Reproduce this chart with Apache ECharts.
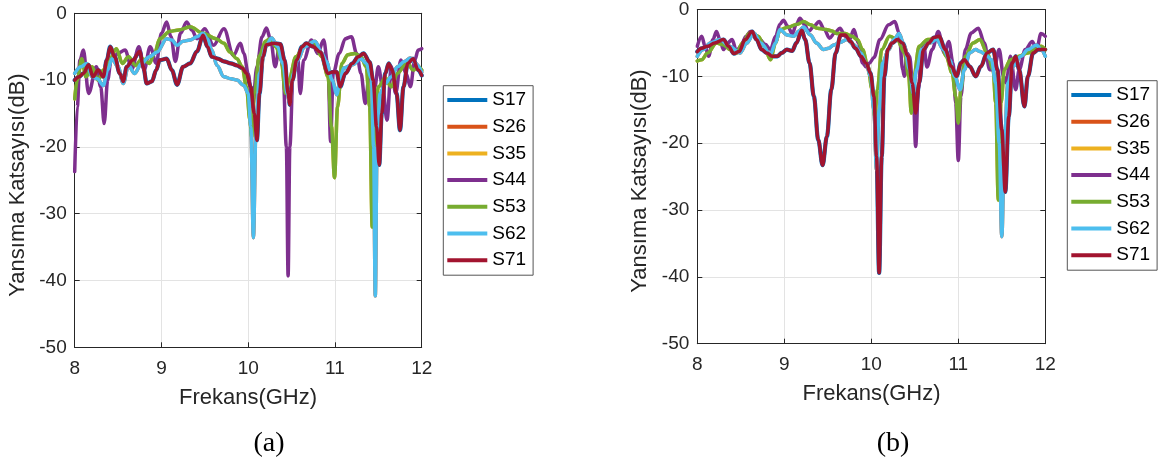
<!DOCTYPE html>
<html>
<head>
<meta charset="utf-8">
<script src="https://cdn.jsdelivr.net/npm/echarts@6/dist/echarts.min.js"></script>
<style>
html,body{margin:0;padding:0;background:#fff;}
#chart{width:1164px;height:468px;}
</style>
</head>
<body>
<div id="chart"></div>
<script>
// ---------- DATA ----------
var seriesNames = ['S17','S26','S35','S44','S53','S62','S71'];
var xTicks = [8, 9, 10, 11, 12];
var yTicks = [0, -10, -20, -30, -40, -50];

// Plot (a)  [frequency GHz, dB]
var a_S44 = [[8.0,-23.7],[8.03,-14],[8.06,-7],[8.10,-5.5],[8.16,-12],[8.25,-8],[8.30,-11],[8.34,-16.5],[8.38,-10],[8.42,-7],[8.50,-6],[8.58,-5.5],[8.66,-8.3],[8.74,-5],[8.80,-8.5],[8.87,-5],[8.94,-7.5],[9.0,-3],[9.06,-1.3],[9.11,-3.5],[9.16,-7.2],[9.22,-3],[9.29,-1.3],[9.35,-2.5],[9.41,-3.8],[9.50,-2.3],[9.60,-4.8],[9.72,-2.3],[9.83,-6.3],[9.91,-4.5],[9.95,-6],[10.0,-9],[10.05,-14],[10.1,-8],[10.16,-3.5],[10.21,-2.2],[10.26,-4],[10.31,-8],[10.36,-5],[10.4,-8],[10.44,-20],[10.46,-39.3],[10.48,-20],[10.52,-8],[10.57,-6.5],[10.6,-12],[10.64,-7],[10.73,-4],[10.8,-6],[10.87,-4],[10.92,-8],[10.95,-19.2],[10.98,-9],[11.05,-6],[11.12,-3.8],[11.19,-3.5],[11.25,-6],[11.3,-9],[11.35,-13.5],[11.4,-8.5],[11.46,-11],[11.5,-8],[11.55,-11],[11.6,-16],[11.65,-8],[11.7,-12],[11.76,-7],[11.82,-9],[11.87,-11],[11.92,-7],[11.96,-5.5],[12.0,-5.3]];
var a_S53 = [[8.0,-12.8],[8.03,-10],[8.08,-6.8],[8.13,-9.5],[8.2,-8],[8.27,-10],[8.33,-8.5],[8.4,-7],[8.48,-5.3],[8.55,-7.5],[8.62,-6.5],[8.7,-7.8],[8.78,-6.8],[8.86,-7.5],[8.92,-6],[8.98,-3.8],[9.1,-2.7],[9.2,-2.5],[9.33,-2],[9.48,-3],[9.63,-3.8],[9.72,-4.5],[9.79,-5.8],[9.87,-6.8],[9.93,-8],[9.98,-11],[10.02,-16],[10.04,-18.5],[10.07,-12],[10.13,-6.3],[10.2,-4.2],[10.25,-3.8],[10.32,-5],[10.38,-7],[10.43,-12],[10.47,-10],[10.55,-6.5],[10.65,-4.8],[10.75,-4.3],[10.85,-6.5],[10.92,-9.5],[10.96,-17],[10.995,-24.6],[11.03,-14],[11.08,-7.5],[11.15,-6.2],[11.23,-6],[11.3,-6.5],[11.36,-8],[11.40,-14],[11.43,-32],[11.46,-16],[11.5,-11],[11.58,-9.7],[11.65,-11],[11.72,-9],[11.83,-7.3],[11.9,-8.5],[11.96,-8],[12.0,-8.5]];
var a_S62 = [[8.0,-9],[8.07,-8],[8.14,-7.5],[8.2,-9.5],[8.26,-9.8],[8.33,-10.8],[8.38,-8.5],[8.43,-6.8],[8.5,-8],[8.56,-10.5],[8.62,-7.8],[8.69,-9],[8.77,-7.5],[8.86,-6.5],[8.95,-5.8],[9.06,-3.8],[9.12,-4],[9.18,-4.8],[9.25,-4.2],[9.33,-4],[9.41,-3.5],[9.48,-3],[9.53,-3.8],[9.58,-5.5],[9.64,-7.8],[9.72,-9.5],[9.8,-9.8],[9.87,-10],[9.95,-10.8],[10.0,-12],[10.03,-17],[10.06,-33.6],[10.09,-17],[10.13,-9],[10.2,-5],[10.27,-3.7],[10.34,-5],[10.4,-7.5],[10.45,-12],[10.48,-13.5],[10.52,-9],[10.57,-7],[10.65,-5],[10.77,-4.2],[10.85,-6],[10.9,-7.2],[10.97,-10],[11.02,-12.2],[11.06,-10],[11.1,-8.2],[11.2,-7.7],[11.3,-6.8],[11.36,-7.5],[11.42,-9.8],[11.445,-20],[11.465,-42.3],[11.485,-20],[11.52,-12],[11.58,-10.5],[11.65,-9.5],[11.72,-8],[11.8,-7.2],[11.87,-6.7],[11.93,-7.5],[12.0,-8.8]];
var a_S71 = [[8.0,-10],[8.05,-9.5],[8.1,-9],[8.16,-7.7],[8.21,-9.5],[8.27,-8.5],[8.33,-9.5],[8.37,-7],[8.41,-5],[8.46,-6.5],[8.52,-9],[8.56,-10.2],[8.6,-8],[8.67,-7],[8.75,-5.7],[8.79,-8],[8.83,-10.5],[8.89,-10.2],[8.94,-8.5],[8.98,-7],[9.06,-6.8],[9.12,-8.5],[9.18,-10.7],[9.25,-8],[9.33,-7.5],[9.41,-5.7],[9.48,-3.3],[9.53,-5],[9.58,-6.5],[9.65,-6.8],[9.72,-7.2],[9.8,-7.5],[9.87,-7.8],[9.93,-8.2],[9.98,-9],[10.03,-11],[10.07,-15],[10.1,-19],[10.13,-12],[10.17,-6.5],[10.21,-4.7],[10.3,-4.5],[10.37,-4.6],[10.42,-7],[10.46,-12],[10.48,-13.7],[10.51,-10],[10.56,-7],[10.62,-5],[10.67,-4.5],[10.75,-5],[10.83,-5.8],[10.92,-9],[10.97,-8.8],[11.02,-8.8],[11.06,-11],[11.12,-9],[11.2,-7.5],[11.27,-6.5],[11.33,-6],[11.4,-7.3],[11.44,-10],[11.48,-17],[11.51,-22.7],[11.54,-15],[11.58,-9],[11.62,-7.5],[11.66,-8.5],[11.71,-12],[11.75,-17.5],[11.79,-11],[11.84,-7.5],[11.9,-6.8],[11.96,-8.5],[12.0,-9.3]];
// hidden underneath (identical traces)
var a_S17 = a_S71, a_S26 = a_S62, a_S35 = a_S53;

// Plot (b)
var b_S44 = [[8.0,-5.5],[8.05,-4],[8.09,-5.5],[8.13,-7],[8.18,-4.5],[8.22,-3.3],[8.26,-4.5],[8.3,-6],[8.35,-5],[8.4,-4.5],[8.45,-6.2],[8.5,-5.5],[8.56,-4],[8.61,-3.3],[8.67,-3.8],[8.72,-4.5],[8.78,-5.2],[8.84,-6],[8.9,-4],[8.95,-2.2],[8.99,-1.6],[9.04,-2.5],[9.09,-3.6],[9.14,-2.2],[9.18,-1.3],[9.23,-2.2],[9.28,-3.3],[9.34,-2.5],[9.4,-1.8],[9.46,-3],[9.52,-4.3],[9.58,-3.5],[9.64,-2.8],[9.7,-4],[9.75,-4.5],[9.8,-3],[9.85,-5],[9.9,-8],[9.94,-8.6],[9.98,-8],[10.03,-7.2],[10.1,-4.5],[10.2,-2.3],[10.27,-1.8],[10.32,-3.5],[10.36,-9],[10.38,-10],[10.41,-6.5],[10.44,-7],[10.48,-12],[10.51,-20.5],[10.54,-12],[10.58,-6],[10.6,-5],[10.64,-8.6],[10.7,-6],[10.77,-3.3],[10.84,-6.5],[10.89,-4.8],[10.94,-8],[10.97,-14],[11.0,-22.6],[11.03,-13],[11.08,-6],[11.15,-3.5],[11.23,-2.8],[11.3,-5],[11.36,-9],[11.41,-9],[11.47,-6],[11.52,-10],[11.55,-11],[11.6,-7],[11.66,-12],[11.7,-9],[11.77,-6],[11.85,-4.8],[11.9,-6],[11.95,-3.6],[12.0,-4]];
var b_S53 = [[8.0,-7.7],[8.05,-7.5],[8.12,-6.5],[8.22,-5],[8.3,-5.3],[8.38,-6],[8.45,-6.5],[8.52,-5],[8.6,-3.5],[8.7,-4],[8.77,-5.5],[8.84,-7.5],[8.9,-5],[8.95,-3],[9.05,-2.6],[9.15,-2.2],[9.22,-1.8],[9.3,-2.3],[9.38,-2.8],[9.48,-3],[9.55,-3.2],[9.6,-3.6],[9.7,-3.6],[9.78,-4],[9.84,-4.5],[9.9,-6],[9.96,-8.5],[10.01,-12],[10.04,-16],[10.07,-12],[10.12,-6],[10.21,-4],[10.3,-4.5],[10.38,-6.5],[10.43,-10],[10.46,-15.5],[10.49,-10],[10.55,-5.5],[10.65,-4.5],[10.75,-4.3],[10.8,-5],[10.86,-7],[10.93,-9.5],[10.97,-13],[11.0,-17],[11.03,-12],[11.08,-7],[11.17,-5],[11.25,-4.5],[11.33,-6.5],[11.4,-9],[11.43,-14],[11.46,-28.5],[11.49,-14],[11.53,-9],[11.6,-7.5],[11.7,-7],[11.8,-6.5],[11.88,-6],[11.95,-5.5],[12.0,-6]];
var b_S62 = [[8.0,-7],[8.07,-6],[8.15,-5],[8.26,-4.5],[8.37,-5.5],[8.49,-6.5],[8.57,-5],[8.65,-3.5],[8.73,-5],[8.84,-6.7],[8.9,-5],[8.95,-3],[9.03,-3.8],[9.11,-4],[9.17,-3.2],[9.22,-2.6],[9.3,-3.8],[9.37,-5],[9.45,-6],[9.51,-5.8],[9.57,-5.3],[9.64,-4.9],[9.72,-4.5],[9.8,-5.3],[9.88,-6.5],[9.94,-8],[9.99,-10],[10.03,-15],[10.06,-24],[10.09,-15],[10.13,-8],[10.2,-6],[10.26,-4.5],[10.32,-3.6],[10.38,-5.5],[10.44,-9],[10.48,-12.5],[10.52,-9],[10.58,-6],[10.67,-5],[10.75,-4.5],[10.83,-6],[10.9,-7.5],[10.96,-10],[11.02,-12],[11.07,-9],[11.13,-6.5],[11.2,-6],[11.25,-6.3],[11.32,-6.8],[11.38,-7.5],[11.43,-11],[11.47,-20],[11.5,-34],[11.53,-20],[11.57,-11],[11.63,-8.5],[11.72,-7],[11.8,-6],[11.9,-5.3],[11.95,-6],[12.0,-7]];
var b_S71 = [[8.0,-6.3],[8.05,-5.8],[8.12,-5.5],[8.2,-5],[8.3,-4.5],[8.36,-5.5],[8.42,-6.6],[8.48,-6.3],[8.55,-4.5],[8.63,-3.3],[8.68,-4.5],[8.74,-6],[8.8,-6.5],[8.86,-7],[8.92,-7],[8.97,-6.5],[9.03,-6],[9.09,-6.2],[9.14,-5],[9.2,-3.1],[9.24,-4.5],[9.29,-8],[9.34,-13],[9.39,-19.5],[9.44,-23.3],[9.49,-19],[9.54,-12],[9.59,-6.5],[9.65,-3.8],[9.7,-3.8],[9.76,-4.8],[9.82,-5.8],[9.88,-7],[9.94,-8],[9.99,-9.5],[10.03,-13],[10.06,-22],[10.09,-39.4],[10.12,-22],[10.15,-10],[10.19,-6],[10.24,-5],[10.3,-4.5],[10.36,-5],[10.42,-7],[10.47,-11],[10.51,-15.5],[10.55,-11],[10.6,-6],[10.66,-5],[10.72,-4.2],[10.78,-4],[10.85,-6],[10.92,-8.5],[10.98,-10],[11.03,-8],[11.07,-7.5],[11.13,-8.5],[11.2,-10],[11.26,-8.5],[11.33,-6.5],[11.4,-6],[11.45,-9],[11.5,-18],[11.54,-27.3],[11.58,-16],[11.62,-8],[11.66,-7],[11.7,-9],[11.76,-14.5],[11.8,-10],[11.86,-6.5],[11.92,-6],[12.0,-6]];
var b_S17 = b_S71, b_S26 = b_S62, b_S35 = b_S53;

var colors = ['#0072BD','#D95319','#EDB120','#7E2F8E','#77AC30','#4DBEEE','#A2142F'];
var dataA = [a_S17,a_S26,a_S35,a_S44,a_S53,a_S62,a_S71];
var dataB = [b_S17,b_S26,b_S35,b_S44,b_S53,b_S62,b_S71];

// ---------- CHART ----------
var FONT = '"Liberation Sans", Arial, Helvetica, sans-serif';
var AX = '#262626';
var chart = echarts.init(document.getElementById('chart'), null, {renderer:'canvas'});

var grids = [
  {left:74.7, top:13.3, width:347, height:334, containLabel:false},
  {left:697.3, top:8, width:348, height:335.7, containLabel:false}
];

function mainX(gi){
  return {type:'value', gridIndex:gi, min:8, max:12, interval:1, position:'bottom',
    axisLine:{show:true, onZero:false, lineStyle:{color:AX, width:1}},
    axisTick:{show:true, inside:true, length:5, lineStyle:{color:AX}},
    axisLabel:{show:true, margin:12, fontSize:19, color:AX, fontFamily:FONT,
      formatter:function(v){ return xTicks.indexOf(v)>=0 ? String(v) : ''; }},
    splitLine:{show:true, lineStyle:{color:'#e3e3e3', width:1}}};
}
function mirrorX(gi){
  return {type:'value', gridIndex:gi, min:8, max:12, interval:1, position:'top',
    axisLine:{show:true, onZero:false, lineStyle:{color:AX, width:1}},
    axisTick:{show:true, inside:true, length:5, lineStyle:{color:AX}},
    axisLabel:{show:false}, splitLine:{show:false}};
}
function mainY(gi){
  return {type:'value', gridIndex:gi, min:-50, max:0, interval:10, position:'left',
    axisLine:{show:true, onZero:false, lineStyle:{color:AX, width:1}},
    axisTick:{show:true, inside:true, length:5, lineStyle:{color:AX}},
    axisLabel:{show:true, margin:8, fontSize:19, color:AX, fontFamily:FONT,
      formatter:function(v){ return yTicks.indexOf(v)>=0 ? String(v) : ''; }},
    splitLine:{show:true, lineStyle:{color:'#e3e3e3', width:1}}};
}
function mirrorY(gi){
  return {type:'value', gridIndex:gi, min:-50, max:0, interval:10, position:'right',
    axisLine:{show:true, onZero:false, lineStyle:{color:AX, width:1}},
    axisTick:{show:true, inside:true, length:5, lineStyle:{color:AX}},
    axisLabel:{show:false}, splitLine:{show:false}};
}

var series = [];
[dataA, dataB].forEach(function(dset, gi){
  seriesNames.forEach(function(name, i){
    series.push({
      name:name, type:'line', xAxisIndex:gi, yAxisIndex:gi,
      data:dset[i], showSymbol:false, symbol:'none',
      smooth:0.35, smoothMonotone:'x',
      color:colors[i],
      lineStyle:{color:colors[i], width:(i===0?4.2:3.5), join:'round', cap:'round'},
      emphasis:{disabled:true}, animation:false, z:2+i
    });
  });
});

function legendAt(left, top){
  return {
    orient:'vertical', left:left, top:top,
    data:seriesNames, icon:'rect', itemWidth:40, itemHeight:4, itemGap:6.7,
    padding:[4.3, 7, 5, 4],
    borderColor:'#555', borderWidth:1, backgroundColor:'#fff',
    textStyle:{fontSize:19, lineHeight:20, color:'#000', fontFamily:FONT},
    selectedMode:false
  };
}

var option = {
  backgroundColor:'#fff',
  animation:false,
  grid:grids,
  xAxis:[mainX(0), mainX(1), mirrorX(0), mirrorX(1)],
  yAxis:[mainY(0), mainY(1), mirrorY(0), mirrorY(1)],
  legend:[legendAt(443.3, 85.7), legendAt(1067.3, 80.7)],
  series:series,
  graphic:[
    {type:'text', x:17.5, y:185, rotation:Math.PI/2,
      style:{text:'Yansıma Katsayısı(dB)', font:'22px '+FONT, fill:AX, align:'center', verticalAlign:'middle'}},
    {type:'text', x:248, y:398,
      style:{text:'Frekans(GHz)', font:'22px '+FONT, fill:AX, align:'center', verticalAlign:'middle'}},
    {type:'text', x:269, y:444,
      style:{text:'(a)', font:'28px "Liberation Serif", "Times New Roman", serif', fill:'#000', align:'center', verticalAlign:'middle'}},
    {type:'text', x:640, y:181, rotation:Math.PI/2,
      style:{text:'Yansıma Katsayısı(dB)', font:'22px '+FONT, fill:AX, align:'center', verticalAlign:'middle'}},
    {type:'text', x:871.5, y:394,
      style:{text:'Frekans(GHz)', font:'22px '+FONT, fill:AX, align:'center', verticalAlign:'middle'}},
    {type:'text', x:893, y:444,
      style:{text:'(b)', font:'28px "Liberation Serif", "Times New Roman", serif', fill:'#000', align:'center', verticalAlign:'middle'}}
  ]
};
chart.setOption(option);
</script>
</body>
</html>
